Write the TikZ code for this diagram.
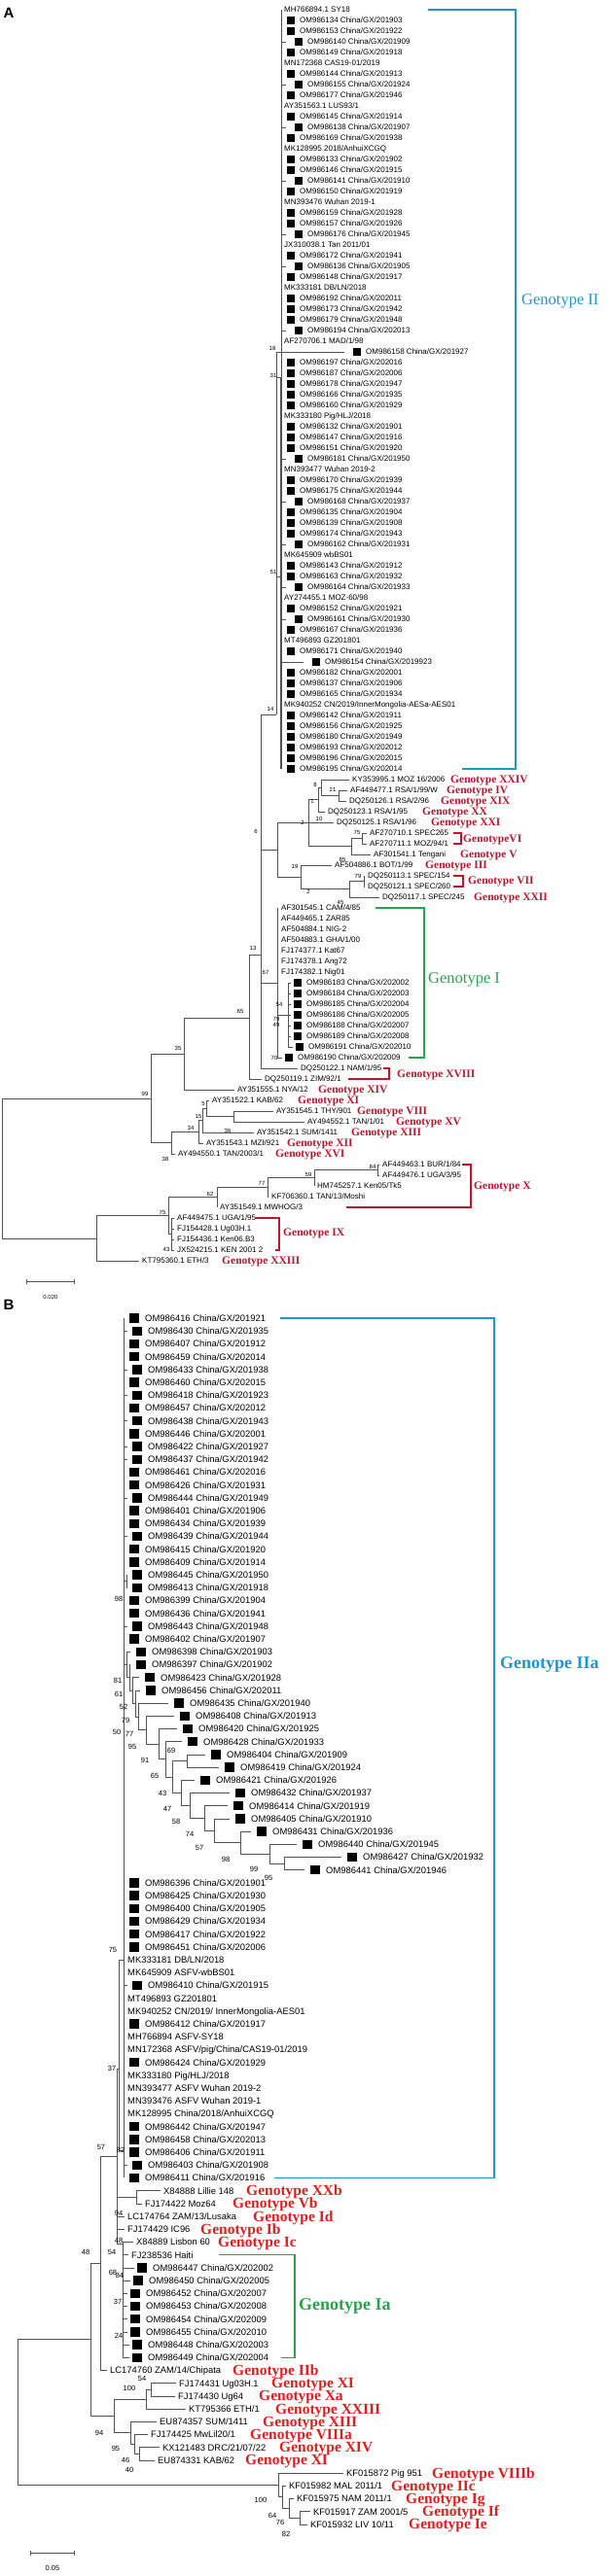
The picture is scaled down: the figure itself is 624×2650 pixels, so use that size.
\documentclass[tikz,border=0pt]{standalone}
\usepackage{fontspec}
\setmainfont{Liberation Sans}
\newfontfamily\timesf{Liberation Serif}
\usetikzlibrary{arrows.meta}

\definecolor{gred}{RGB}{192,22,44}
\definecolor{bred}{RGB}{228,28,28}
\definecolor{gblue}{RGB}{27,150,214}
\definecolor{ggreen}{RGB}{40,165,75}

\newcommand{\lfa}{\fontsize{8}{8}\selectfont}
\newcommand{\lfb}{\fontsize{9.4}{9.4}\selectfont}
\newcommand{\bsfa}{\fontsize{6}{6}\selectfont}
\newcommand{\bsfb}{\fontsize{7.5}{7.5}\selectfont}
\newcommand{\gfa}{\timesf\bfseries\fontsize{11.5}{11.5}\selectfont}
\newcommand{\gfb}{\timesf\bfseries\fontsize{15.5}{15.5}\selectfont}
\newcommand{\gfA}{\timesf\fontsize{16.5}{16.5}\selectfont}
\newcommand{\gfB}{\timesf\bfseries\fontsize{18}{18}\selectfont}
\newcommand{\sqa}{\rule[-0.9pt]{7.5pt}{7.5pt}\hspace{5.5pt}}
\newcommand{\sqb}{\rule[-1.4pt]{9.5pt}{9.5pt}\hspace{6.5pt}}

\tikzset{
	br/.style={draw=black!68, line width=0.6pt},
	la/.style={anchor=west, inner xsep=3pt, inner ysep=0pt, font=\lfa, text height=5.8pt, text depth=0pt},
	lai/.style={la, inner xsep=9pt},
	lb/.style={anchor=west, inner xsep=3pt, inner ysep=0pt, font=\lfb, text height=6.8pt, text depth=0pt},
	lbi/.style={lb, inner xsep=5pt},
	lbl/.style={lb, inner xsep=6pt},
	bsa/.style={inner sep=0pt, font=\bsfa},
	bsb/.style={inner sep=0pt, font=\bsfb},
	gta/.style={anchor=west, inner sep=0pt, font=\gfa, text=gred, text height=7.6pt, text depth=0pt},
	gtb/.style={anchor=west, inner sep=0pt, font=\gfb, text=bred, text height=10.3pt, text depth=0pt},
	brk/.style={line width=1.2pt},
	panel/.style={inner sep=0pt, font=\bfseries\fontsize{15}{15}\selectfont},
}

\begin{document}
\begin{tikzpicture}[x=1pt, y=-1pt]
				\useasboundingbox (0,0) rectangle (624,2650);
				\node[panel] (pA) at (9,13) {A};
				
				%%% A: GENOTIPO II
				\node[la] (a1) at (289,10) {MH766894.1 SY18};
				\node[la] (a2) at (292,21) {\sqa OM986134 China/GX/201903};
				\node[la] (a3) at (292,32) {\sqa OM986153 China/GX/201922};
				\node[lai] (a4) at (294,43) {\sqa OM986140 China/GX/201909};
				\node[la] (a5) at (292,54) {\sqa OM986149 China/GX/201918};
				\node[la] (a6) at (289,65) {MN172368 CAS19-01/2019};
				\node[la] (a7) at (292,76) {\sqa OM986144 China/GX/201913};
				\node[lai] (a8) at (294,87) {\sqa OM986155 China/GX/201924};
				\node[la] (a9) at (292,98) {\sqa OM986177 China/GX/201946};
				\node[la] (a10) at (289,109) {AY351563.1 LUS93/1};
				\node[la] (a11) at (292,120) {\sqa OM986145 China/GX/201914};
				\node[lai] (a12) at (294,131) {\sqa OM986138 China/GX/201907};
				\node[la] (a13) at (292,142) {\sqa OM986169 China/GX/201938};
				\node[la] (a14) at (289,153) {MK128995 2018/AnhuiXCGQ};
				\node[la] (a15) at (292,164) {\sqa OM986133 China/GX/201902};
				\node[la] (a16) at (292,175) {\sqa OM986146 China/GX/201915};
				\node[lai] (a17) at (294,186) {\sqa OM986141 China/GX/201910};
				\node[la] (a18) at (292,197) {\sqa OM986150 China/GX/201919};
				\node[la] (a19) at (289,208) {MN393476 Wuhan 2019-1};
				\node[la] (a20) at (292,219) {\sqa OM986159 China/GX/201928};
				\node[la] (a21) at (292,230) {\sqa OM986157 China/GX/201926};
				\node[lai] (a22) at (294,241) {\sqa OM986176 China/GX/201945};
				\node[la] (a23) at (289,252) {JX310038.1 Tan 2011/01};
				\node[la] (a24) at (292,263) {\sqa OM986172 China/GX/201941};
				\node[lai] (a25) at (294,274) {\sqa OM986136 China/GX/201905};
				\node[la] (a26) at (292,285) {\sqa OM986148 China/GX/201917};
				\node[la] (a27) at (289,296) {MK333181 DB/LN/2018};
				\node[la] (a28) at (292,307) {\sqa OM986192 China/GX/202011};
				\node[la] (a29) at (292,318) {\sqa OM986173 China/GX/201942};
				\node[la] (a30) at (292,329) {\sqa OM986179 China/GX/201948};
				\node[lai] (a31) at (294,340) {\sqa OM986194 China/GX/202013};
				\node[la] (a32) at (289,351) {AF270706.1 MAD/1/98};
				\node[lai] (a33) at (354,362) {\sqa OM986158 China/GX/201927};
				\node[la] (a34) at (292,373) {\sqa OM986197 China/GX/202016};
				\node[la] (a35) at (292,384) {\sqa OM986187 China/GX/202006};
				\node[la] (a36) at (292,395) {\sqa OM986178 China/GX/201947};
				\node[la] (a37) at (292,406) {\sqa OM986166 China/GX/201935};
				\node[la] (a38) at (292,417) {\sqa OM986160 China/GX/201929};
				\node[la] (a39) at (289,428) {MK333180 Pig/HLJ/2018};
				\node[la] (a40) at (292,439) {\sqa OM986132 China/GX/201901};
				\node[la] (a41) at (292,450) {\sqa OM986147 China/GX/201916};
				\node[la] (a42) at (292,461) {\sqa OM986151 China/GX/201920};
				\node[lai] (a43) at (294,472) {\sqa OM986181 China/GX/201950};
				\node[la] (a44) at (289,483) {MN393477 Wuhan 2019-2};
				\node[la] (a45) at (292,494) {\sqa OM986170 China/GX/201939};
				\node[la] (a46) at (292,505) {\sqa OM986175 China/GX/201944};
				\node[lai] (a47) at (294,516) {\sqa OM986168 China/GX/201937};
				\node[la] (a48) at (292,527) {\sqa OM986135 China/GX/201904};
				\node[la] (a49) at (292,538) {\sqa OM986139 China/GX/201908};
				\node[la] (a50) at (292,549) {\sqa OM986174 China/GX/201943};
				\node[lai] (a51) at (294,560) {\sqa OM986162 China/GX/201931};
				\node[la] (a52) at (289,571) {MK645909 wbBS01};
				\node[la] (a53) at (292,582) {\sqa OM986143 China/GX/201912};
				\node[la] (a54) at (292,593) {\sqa OM986163 China/GX/201932};
				\node[lai] (a55) at (294,604) {\sqa OM986164 China/GX/201933};
				\node[la] (a56) at (289,615) {AY274455.1 MOZ-60/98};
				\node[la] (a57) at (292,626) {\sqa OM986152 China/GX/201921};
				\node[lai] (a58) at (294,637) {\sqa OM986161 China/GX/201930};
				\node[la] (a59) at (292,648) {\sqa OM986167 China/GX/201936};
				\node[la] (a60) at (289,659) {MT496893 GZ201801};
				\node[la] (a61) at (292,670) {\sqa OM986171 China/GX/201940};
				\node[lai] (a62) at (312,681) {\sqa OM986154 China/GX/2019923};
				\node[la] (a63) at (292,692) {\sqa OM986182 China/GX/202001};
				\node[la] (a64) at (292,703) {\sqa OM986137 China/GX/201906};
				\node[la] (a65) at (292,714) {\sqa OM986165 China/GX/201934};
				\node[la] (a66) at (289,725) {MK940252 CN/2019/InnerMongolia-AESa-AES01};
				\node[la] (a67) at (292,736) {\sqa OM986142 China/GX/201911};
				\node[la] (a68) at (292,747) {\sqa OM986156 China/GX/201925};
				\node[la] (a69) at (292,758) {\sqa OM986180 China/GX/201949};
				\node[la] (a70) at (292,769) {\sqa OM986193 China/GX/202012};
				\node[la] (a71) at (292,780) {\sqa OM986196 China/GX/202015};
				\node[la] (a72) at (292,791) {\sqa OM986195 China/GX/202014};
				
				%%% A: GENOTIPOS XXIV ... XXII
				\node[la] (a73) at (359,802) {KY353995.1 MOZ 16/2006};
				\node[la] (a74) at (357,813) {AF449477.1 RSA/1/99/W};
				\node[la] (a75) at (356,824) {DQ250126.1 RSA/2/96};
				\node[la] (a76) at (334,835) {DQ250123.1 RSA/1/95};
				\node[la] (a77) at (343,846) {DQ250125.1 RSA/1/96};
				\node[la] (a78) at (377,857) {AF270710.1 SPEC265};
				\node[la] (a79) at (377,868) {AF270711.1 MOZ/94/1};
				\node[la] (a80) at (381,879) {AF301541.1 Tengani};
				\node[la] (a81) at (341,890) {AF504886.1 BOT/1/99};
				\node[la] (a82) at (375,901) {DQ250113.1 SPEC/154};
				\node[la] (a83) at (375,912) {DQ250121.1 SPEC/260};
				\node[la] (a84) at (390,923) {DQ250117.1 SPEC/245};
				
				%%% A: GENOTIPO I
				\node[la] (a85) at (286,934) {AF301545.1 CAM/4/85};
				\node[la] (a86) at (286,945) {AF449465.1 ZAR85};
				\node[la] (a87) at (286,956) {AF504884.1 NIG-2};
				\node[la] (a88) at (286,967) {AF504883.1 GHA/1/00};
				\node[la] (a89) at (286,978) {FJ174377.1 Kat67};
				\node[la] (a90) at (286,989) {FJ174378.1 Ang72};
				\node[la] (a91) at (286,1000) {FJ174382.1 Nig01};
				\node[la] (a92) at (299,1011) {\sqa OM986183 China/GX/202002};
				\node[la] (a93) at (299,1022) {\sqa OM986184 China/GX/202003};
				\node[la] (a94) at (299,1033) {\sqa OM986185 China/GX/202004};
				\node[la] (a95) at (299,1044) {\sqa OM986186 China/GX/202005};
				\node[la] (a96) at (299,1055) {\sqa OM986188 China/GX/202007};
				\node[la] (a97) at (299,1066) {\sqa OM986189 China/GX/202008};
				\node[la] (a98) at (301,1077) {\sqa OM986191 China/GX/202010};
				\node[la] (a99) at (290,1088) {\sqa OM986190 China/GX/202009};
				
				%%% A: RESTO
				\node[la] (a100) at (306,1099) {DQ250122.1 NAM/1/95};
				\node[la] (a101) at (269,1110) {DQ250119.1 ZIM/92/1};
				\node[la] (a102) at (241,1121) {AY351555.1 NYA/12};
				\node[la] (a103) at (215,1132) {AY351522.1 KAB/62};
				\node[la] (a104) at (281,1143) {AY351545.1 THY/901};
				\node[la] (a105) at (313,1154) {AY494552.1 TAN/1/01};
				\node[la] (a106) at (261,1165) {AY351542.1 SUM/1411};
				\node[la] (a107) at (209,1176) {AY351543.1 MZI/921};
				\node[la] (a108) at (180,1187) {AY494550.1 TAN/2003/1};
				\node[la] (a109) at (390,1198) {AF449463.1 BUR/1/84};
				\node[la] (a110) at (390,1209) {AF449476.1 UGA/3/95};
				\node[la] (a111) at (323,1220) {HM745257.1 Ken05/Tk5};
				\node[la] (a112) at (276,1231) {KF706360.1 TAN/13/Moshi};
				\node[la] (a113) at (223,1242) {AY351549.1 MWHOG/3};
				\node[la] (a114) at (179,1253) {AF449475.1 UGA/1/95};
				\node[la] (a115) at (179,1264) {FJ154428.1 Ug03H.1};
				\node[la] (a116) at (179,1275) {FJ154436.1 Ken06.B3};
				\node[la] (a117) at (179,1286) {JX524215.1 KEN 2001 2};
				\node[la] (a118) at (143,1297) {KT795360.1 ETH/3};
				
				%%% A: NODOS
				\coordinate (gII) at (289,10);
				\coordinate (gIIb) at (289,791);
				\coordinate (n31) at (289,388);
				\coordinate (n51) at (289,593);
				\coordinate (n14) at (284,735);
				\coordinate (n21) at (348,818.5);
				\coordinate (n8) at (330,810);
				\coordinate (n1) at (327,822.5);
				\coordinate (nVI) at (372,862.5);
				\coordinate (nV) at (361,870.75);
				\coordinate (n2) at (317,846.6);
				\coordinate (n79) at (374,906.5);
				\coordinate (n45) at (359,914.75);
				\coordinate (n19) at (309,902.4);
				\coordinate (nM) at (285,874.5);
				\coordinate (n54) at (296,1044);
				\coordinate (nI) at (285,1011);
				\coordinate (n13) at (268,982);
				\coordinate (n65) at (256,1047);
				\coordinate (n35) at (189,1084);
				\coordinate (nTT) at (240,1148.5);
				\coordinate (n5) at (212,1140);
				\coordinate (n15) at (208,1152.5);
				\coordinate (n34) at (204,1164);
				\coordinate (n38) at (176,1175.5);
				\coordinate (n99) at (155,1130);
				\coordinate (n84) at (388,1203.5);
				\coordinate (n59) at (323,1211.75);
				\coordinate (n77) at (275,1221.4);
				\coordinate (n62) at (223,1231.7);
				\coordinate (nIX) at (176,1269.5);
				\coordinate (n75) at (173,1250.6);
				\coordinate (nE) at (99,1274);
				\coordinate (rA) at (2,1202);
				
				%%% A: RAMAS
				\draw[br] (gII) -- (gIIb);
				\draw[br, line width=1.3pt] (n31) -- (gIIb);
				\draw[br] (gII) |- (a4.west) (gII) |- (a8.west) (gII) |- (a12.west) (gII) |- (a17.west) (gII) |- (a22.west) (gII) |- (a25.west) (gII) |- (a31.west);
				\draw[br] (gII) |- (a43.west) (gII) |- (a47.west) (gII) |- (a51.west) (gII) |- (a55.west) (gII) |- (a58.west) (gII) |- (a62.west);
				\draw[br] (n14) |- (a33.west) (n14) |- (n31) (n14) |- (n51);
				\draw[br] (n13) |- (n14);
				\draw[br] (n21) |- (a74.west) (n21) |- (a75.west);
				\draw[br] (n8) |- (a73.west) (n8) |- (n21);
				\draw[br] (n1) |- (n8) (n1) |- (a76.west);
				\draw[br] (nVI) |- (a78.west) (nVI) |- (a79.west);
				\draw[br] (nV) |- (nVI) (nV) |- (a80.west);
				\draw[br] (n2) |- (n1) (n2) |- (a77.west) (n2) |- (nV);
				\draw[br] (n79) |- (a82.west) (n79) |- (a83.west);
				\draw[br] (n45) |- (n79) (n45) |- (a84.west);
				\draw[br] (n19) |- (a81.west) (n19) |- (n45);
				\draw[br] (nM) |- (n2) (nM) |- (n19);
				\draw[br] (n13) |- (nM);
				\draw[br] (nI) |- (a85.west) (nI) |- (a86.west) (nI) |- (a87.west) (nI) |- (a88.west) (nI) |- (a89.west) (nI) |- (a90.west) (nI) |- (a91.west);
				\draw[br] (nI) |- (n54) (nI) |- (a99.west);
				\draw[br] (n54) |- (a92.west) (n54) |- (a93.west) (n54) |- (a94.west) (n54) |- (a95.west) (n54) |- (a96.west) (n54) |- (a97.west) (n54) |- (a98.west);
				\draw[br] (n13) |- (nI) (n13) |- (a100.west);
				\draw[br] (n65) |- (n13) (n65) |- (a101.west);
				\draw[br] (n35) |- (n65) (n35) |- (a102.west);
				\draw[br] (nTT) |- (a104.west) (nTT) |- (a105.west);
				\draw[br] (n5) |- (a103.west) (n5) |- (nTT);
				\draw[br] (n15) |- (n5) (n15) |- (a106.west);
				\draw[br] (n34) |- (n15) (n34) |- (a107.west);
				\draw[br] (n38) |- (n34) (n38) |- (a108.west);
				\draw[br] (n99) |- (n35) (n99) |- (n38);
				\draw[br] (n84) |- (a109.west) (n84) |- (a110.west);
				\draw[br] (n59) |- (n84) (n59) |- (a111.west);
				\draw[br] (n77) |- (n59) (n77) |- (a112.west);
				\draw[br] (n62) |- (n77) (n62) |- (a113.west);
				\draw[br] (nIX) |- (a114.west) (nIX) |- (a115.west) (nIX) |- (a116.west) (nIX) |- (a117.west);
				\draw[br] (n75) |- (n62) (n75) |- (nIX);
				\draw[br] (nE) |- (n75) (nE) |- (a118.west);
				\draw[br] (rA) |- (n99) (rA) |- (nE);
				
				%%% A: BOOTSTRAP
				\node[bsa] (sa1) at (280,358) {18};
				\node[bsa] (sa2) at (281,386) {31};
				\node[bsa] (sa3) at (281,588) {51};
				\node[bsa] (sa4) at (278,729) {14};
				\node[bsa] (sa5) at (263,855) {6};
				\node[bsa] (sa6) at (324,807) {8};
				\node[bsa] (sa7) at (342,812) {21};
				\node[bsa] (sa8) at (321,824) {1};
				\node[bsa] (sa9) at (328,842) {10};
				\node[bsa] (sa10) at (311,846) {2};
				\node[bsa] (sa11) at (367,856) {75};
				\node[bsa] (sa12) at (352,884) {85};
				\node[bsa] (sa13) at (303,891) {19};
				\node[bsa] (sa14) at (368,901) {79};
				\node[bsa] (sa15) at (317,917) {2};
				\node[bsa] (sa16) at (350,928) {45};
				\node[bsa] (sa17) at (260,975) {13};
				\node[bsa] (sa18) at (273,1000) {67};
				\node[bsa] (sa19) at (287,1033) {54};
				\node[bsa] (sa20) at (284,1048) {79};
				\node[bsa] (sa21) at (284,1054) {49};
				\node[bsa] (sa22) at (247,1040) {65};
				\node[bsa] (sa23) at (282,1088) {70};
				\node[bsa] (sa24) at (183,1078) {35};
				\node[bsa] (sa25) at (149,1125) {99};
				\node[bsa] (sa26) at (209,1135) {5};
				\node[bsa] (sa27) at (204,1148) {15};
				\node[bsa] (sa28) at (196,1160) {34};
				\node[bsa] (sa29) at (234,1163) {36};
				\node[bsa] (sa30) at (170,1192) {38};
				\node[bsa] (sa31) at (383,1200) {84};
				\node[bsa] (sa32) at (317,1208) {59};
				\node[bsa] (sa33) at (269,1217) {77};
				\node[bsa] (sa34) at (216,1228) {62};
				\node[bsa] (sa35) at (167,1247) {75};
				\node[bsa] (sa36) at (171,1285) {43};
				
				%%% A: GENOTIPOS
				\draw[gblue, brk] (440,10) -- (530,10) -- (530,791) -- (475,791);
				\node[anchor=west, inner sep=0pt, font=\gfA, text=gblue] (gtII) at (536,310) {Genotype II};
				\draw[ggreen, brk] (386,934) -- (436,934) -- (436,1088) -- (420,1088);
				\node[anchor=west, inner sep=0pt, font=\gfA, text=ggreen] (gtI) at (440,1008) {Genotype I};
				\draw[gred, brk] (466,857) -- (474,857) -- (474,868) -- (466,868);
				\draw[gred, brk] (466,901) -- (476,901) -- (476,912) -- (466,912);
				\draw[gred, brk] (394,1099) -- (400,1099) -- (400,1110) -- (358,1110);
				\draw[gred, brk] (475,1198) -- (484,1198) -- (484,1242) -- (356,1242);
				\draw[gred, brk] (262,1253) -- (287,1253) -- (287,1286) -- (283,1286);
				\node[gta] (ga1) at (463,802) {Genotype XXIV};
				\node[gta] (ga2) at (459,813) {Genotype IV};
				\node[gta] (ga3) at (453,824) {Genotype XIX};
				\node[gta] (ga4) at (434,835) {Genotype XX};
				\node[gta] (ga5) at (443,846) {Genotype XXI};
				\node[gta] (ga6) at (476,863) {GenotypeVI};
				\node[gta] (ga7) at (473,879) {Genotype V};
				\node[gta] (ga8) at (437,890) {Genotype III};
				\node[gta] (ga9) at (481,906) {Genotype VII};
				\node[gta] (ga10) at (487,923) {Genotype XXII};
				\node[gta] (ga11) at (408,1105) {Genotype XVIII};
				\node[gta] (ga12) at (327,1121) {Genotype XIV};
				\node[gta] (ga13) at (306,1132) {Genotype XI};
				\node[gta] (ga14) at (367,1143) {Genotype VIII};
				\node[gta] (ga15) at (407,1154) {Genotype XV};
				\node[gta] (ga16) at (361,1165) {Genotype XIII};
				\node[gta] (ga17) at (295,1176) {Genotype XII};
				\node[gta] (ga18) at (283,1187) {Genotype XVI};
				\node[gta] (ga19) at (487,1220) {Genotype X};
				\node[gta] (ga20) at (291,1268) {Genotype IX};
				\node[gta] (ga21) at (228,1297) {Genotype XXIII};
				
				%%% A: ESCALA
				\coordinate (ea1) at (27,1318);
				\coordinate (ea2) at (77,1318);
				\draw[br, {Bar[width=5pt]}-{Bar[width=5pt]}] (ea1) -- (ea2);
				\node[bsa] (ea) at (52,1334) {0.020};
				
				\node[panel] (pB) at (9,1342) {B};
				
				%%% B: GENOTIPO IIa
				\node[lb] (b1) at (130,1356) {\sqb OM986416 China/GX/201921};
				\node[lbi] (b2) at (131,1369.2) {\sqb OM986430 China/GX/201935};
				\node[lb] (b3) at (130,1382.4) {\sqb OM986407 China/GX/201912};
				\node[lb] (b4) at (130,1395.6) {\sqb OM986459 China/GX/202014};
				\node[lbi] (b5) at (131,1408.8) {\sqb OM986433 China/GX/201938};
				\node[lb] (b6) at (130,1422) {\sqb OM986460 China/GX/202015};
				\node[lbi] (b7) at (131,1435.2) {\sqb OM986418 China/GX/201923};
				\node[lb] (b8) at (130,1448.4) {\sqb OM986457 China/GX/202012};
				\node[lbi] (b9) at (131,1461.6) {\sqb OM986438 China/GX/201943};
				\node[lb] (b10) at (130,1474.8) {\sqb OM986446 China/GX/202001};
				\node[lbi] (b11) at (131,1488) {\sqb OM986422 China/GX/201927};
				\node[lbi] (b12) at (131,1501.2) {\sqb OM986437 China/GX/201942};
				\node[lb] (b13) at (130,1514.4) {\sqb OM986461 China/GX/202016};
				\node[lb] (b14) at (130,1527.6) {\sqb OM986426 China/GX/201931};
				\node[lbi] (b15) at (131,1540.8) {\sqb OM986444 China/GX/201949};
				\node[lb] (b16) at (130,1554) {\sqb OM986401 China/GX/201906};
				\node[lb] (b17) at (130,1567.2) {\sqb OM986434 China/GX/201939};
				\node[lbi] (b18) at (131,1580.4) {\sqb OM986439 China/GX/201944};
				\node[lb] (b19) at (130,1593.6) {\sqb OM986415 China/GX/201920};
				\node[lb] (b20) at (130,1606.8) {\sqb OM986409 China/GX/201914};
				\node[lbi] (b21) at (131,1620) {\sqb OM986445 China/GX/201950};
				\node[lbi] (b22) at (131,1633.2) {\sqb OM986413 China/GX/201918};
				\node[lb] (b23) at (130,1646.4) {\sqb OM986399 China/GX/201904};
				\node[lb] (b24) at (130,1659.6) {\sqb OM986436 China/GX/201941};
				\node[lbi] (b25) at (131,1672.8) {\sqb OM986443 China/GX/201948};
				\node[lb] (b26) at (130,1686) {\sqb OM986402 China/GX/201907};
				\node[lbl] (b27) at (134,1699.2) {\sqb OM986398 China/GX/201903};
				\node[lbl] (b28) at (134,1712.4) {\sqb OM986397 China/GX/201902};
				\node[lbl] (b29) at (143,1725.6) {\sqb OM986423 China/GX/201928};
				\node[lbl] (b30) at (144,1738.8) {\sqb OM986456 China/GX/202011};
				\node[lbl] (b31) at (173,1752) {\sqb OM986435 China/GX/201940};
				\node[lbl] (b32) at (179,1765.2) {\sqb OM986408 China/GX/201913};
				\node[lbl] (b33) at (182,1778.4) {\sqb OM986420 China/GX/201925};
				\node[lbl] (b34) at (187,1791.6) {\sqb OM986428 China/GX/201933};
				\node[lbl] (b35) at (211,1804.8) {\sqb OM986404 China/GX/201909};
				\node[lbl] (b36) at (225,1818) {\sqb OM986419 China/GX/201924};
				\node[lbl] (b37) at (200,1831.2) {\sqb OM986421 China/GX/201926};
				\node[lbl] (b38) at (236,1844.4) {\sqb OM986432 China/GX/201937};
				\node[lbl] (b39) at (234,1857.6) {\sqb OM986414 China/GX/201919};
				\node[lbl] (b40) at (236,1870.8) {\sqb OM986405 China/GX/201910};
				\node[lbl] (b41) at (258,1884) {\sqb OM986431 China/GX/201936};
				\node[lbl] (b42) at (305,1897.2) {\sqb OM986440 China/GX/201945};
				\node[lbl] (b43) at (351,1910.4) {\sqb OM986427 China/GX/201932};
				\node[lbl] (b44) at (313,1923.6) {\sqb OM986441 China/GX/201946};
				\node[lb] (b45) at (130,1936.8) {\sqb OM986396 China/GX/201901};
				\node[lb] (b46) at (130,1950) {\sqb OM986425 China/GX/201930};
				\node[lb] (b47) at (130,1963.2) {\sqb OM986400 China/GX/201905};
				\node[lb] (b48) at (130,1976.4) {\sqb OM986429 China/GX/201934};
				\node[lb] (b49) at (130,1989.6) {\sqb OM986417 China/GX/201922};
				\node[lb] (b50) at (130,2002.8) {\sqb OM986451 China/GX/202006};
				\node[lb] (b51) at (128,2016) {MK333181 DB/LN/2018};
				\node[lb] (b52) at (128,2029.2) {MK645909 ASFV-wbBS01};
				\node[lbi] (b53) at (131,2042.4) {\sqb OM986410 China/GX/201915};
				\node[lb] (b54) at (128,2055.6) {MT496893 GZ201801};
				\node[lb] (b55) at (128,2068.8) {MK940252 CN/2019/ InnerMongolia-AES01};
				\node[lb] (b56) at (130,2082) {\sqb OM986412 China/GX/201917};
				\node[lb] (b57) at (128,2095.2) {MH766894 ASFV-SY18};
				\node[lb] (b58) at (128,2108.4) {MN172368 ASFV/pig/China/CAS19-01/2019};
				\node[lb] (b59) at (130,2121.6) {\sqb OM986424 China/GX/201929};
				\node[lb] (b60) at (128,2134.8) {MK333180 Pig/HLJ/2018};
				\node[lb] (b61) at (128,2148) {MN393477 ASFV Wuhan 2019-2};
				\node[lb] (b62) at (128,2161.2) {MN393476 ASFV Wuhan 2019-1};
				\node[lb] (b63) at (128,2174.4) {MK128995 China/2018/AnhuiXCGQ};
				\node[lb] (b64) at (130,2187.6) {\sqb OM986442 China/GX/201947};
				\node[lb] (b65) at (130,2200.8) {\sqb OM986458 China/GX/202013};
				\node[lb] (b66) at (130,2214) {\sqb OM986406 China/GX/201911};
				\node[lbi] (b67) at (131,2227.2) {\sqb OM986403 China/GX/201908};
				\node[lb] (b68) at (130,2240.4) {\sqb OM986411 China/GX/201916};
				
				%%% B: OTROS GENOTIPOS
				\node[lb] (b69) at (165,2253.6) {X84888 Lillie 148};
				\node[lb] (b70) at (146,2266.8) {FJ174422 Moz64};
				\node[lb] (b71) at (128,2280) {LC174764 ZAM/13/Lusaka};
				\node[lb] (b72) at (128,2293.2) {FJ174429 IC96};
				\node[lb] (b73) at (137,2306.4) {X84889 Lisbon 60};
				\node[lb] (b74) at (132,2319.6) {FJ238536 Haiti};
				\node[lb] (b75) at (138,2332.8) {\sqb OM986447 China/GX/202002};
				\node[lb] (b76) at (134,2346) {\sqb OM986450 China/GX/202005};
				\node[lb] (b77) at (131,2359.2) {\sqb OM986452 China/GX/202007};
				\node[lb] (b78) at (131,2372.4) {\sqb OM986453 China/GX/202008};
				\node[lb] (b79) at (131,2385.6) {\sqb OM986454 China/GX/202009};
				\node[lb] (b80) at (131,2398.8) {\sqb OM986455 China/GX/202010};
				\node[lb] (b81) at (133,2412) {\sqb OM986448 China/GX/202003};
				\node[lb] (b82) at (133,2425.2) {\sqb OM986449 China/GX/202004};
				\node[lb] (b83) at (110,2438.4) {LC174760 ZAM/14/Chipata};
				\node[lb] (b84) at (181,2451.6) {FJ174431 Ug03H.1};
				\node[lb] (b85) at (180,2464.8) {FJ174430 Ug64};
				\node[lb] (b86) at (191,2478) {KT795366 ETH/1};
				\node[lb] (b87) at (161,2491.2) {EU874357 SUM/1411};
				\node[lb] (b88) at (152,2504.4) {FJ174425 MwLil20/1};
				\node[lb] (b89) at (164,2517.6) {KX121483 DRC/21/07/22};
				\node[lb] (b90) at (159,2530.8) {EU874331 KAB/62};
				\node[lb] (b91) at (353,2544) {KF015872 Pig 951};
				\node[lb] (b92) at (294,2557.2) {KF015982 MAL 2011/1};
				\node[lb] (b93) at (302,2570.4) {KF015975 NAM 2011/1};
				\node[lb] (b94) at (319,2583.6) {KF015917 ZAM 2001/5};
				\node[lb] (b95) at (316,2596.8) {KF015932 LIV 10/11};
				
				%%% B: NODOS
				\coordinate (gIIa) at (127,1356);
				\coordinate (gIIab) at (127,2240.4);
				\coordinate (n21b) at (130,1626.6);
				\coordinate (nE2) at (130,1712.45);
				\coordinate (nD) at (133,1725.7);
				\coordinate (nC) at (136,1739);
				\coordinate (nB) at (139,1752.3);
				\coordinate (nA) at (142,1765.8);
				\coordinate (n77b) at (150,1779.6);
				\coordinate (n95b) at (163,1794.05);
				\coordinate (n91b) at (170,1809.7);
				\coordinate (n65b) at (177,1827.85);
				\coordinate (n69b) at (192,1811.4);
				\coordinate (n43b) at (186,1844.3);
				\coordinate (n47b) at (195,1857.4);
				\coordinate (n58b) at (210,1870.4);
				\coordinate (n74b) at (220,1883.2);
				\coordinate (n57b) at (247,1895.55);
				\coordinate (n98b) at (277,1907.1);
				\coordinate (n99b) at (292,1917);
				\coordinate (c2016) at (127,2016);
				\coordinate (c2212) at (127,2212);
				\coordinate (n75b) at (122,2128);
				\coordinate (n37b) at (120,2218);
				\coordinate (nXX) at (140,2260.2);
				\coordinate (nIa) at (126,2308);
				\coordinate (n57c) at (103,2328);
				\coordinate (n54c) at (155,2458.2);
				\coordinate (n100c) at (150,2468);
				\coordinate (n40c) at (143,2524.2);
				\coordinate (n46c) at (138,2514.3);
				\coordinate (n95c) at (134,2502.75);
				\coordinate (n94c) at (117,2485.4);
				\coordinate (n48c) at (93,2406.7);
				\coordinate (n82c) at (308,2590.2);
				\coordinate (n76c) at (297,2580.3);
				\coordinate (n64c) at (290,2568.75);
				\coordinate (n100d) at (286,2556.4);
				\coordinate (rB) at (18,2481.5);
				
				%%% B: RAMAS
				\draw[br] (gIIa) -- (gIIab);
				\draw[br] (gIIa) |- (b2.west) (gIIa) |- (b5.west) (gIIa) |- (b7.west) (gIIa) |- (b9.west) (gIIa) |- (b11.west) (gIIa) |- (b12.west);
				\draw[br] (gIIa) |- (b15.west) (gIIa) |- (b18.west) (gIIa) |- (b25.west) (gIIa) |- (b53.west) (gIIa) |- (b67.west);
				\draw[br] (gIIa) |- (n21b) (n21b) |- (b21.west) (n21b) |- (b22.west);
				\draw[br] (gIIa) |- (nE2);
				\draw[br] (nE2) |- (b27.west) (nE2) |- (nD);
				\draw[br] (nD) |- (b28.west) (nD) |- (nC);
				\draw[br] (nC) |- (b29.west) (nC) |- (nB);
				\draw[br] (nB) |- (b30.west) (nB) |- (nA);
				\draw[br] (nA) |- (b31.west) (nA) |- (n77b);
				\draw[br] (n77b) |- (b32.west) (n77b) |- (n95b);
				\draw[br] (n95b) |- (b33.west) (n95b) |- (n91b);
				\draw[br] (n91b) |- (b34.west) (n91b) |- (n65b);
				\draw[br] (n65b) |- (n69b) (n65b) |- (n43b);
				\draw[br] (n69b) |- (b35.west) (n69b) |- (b36.west);
				\draw[br] (n43b) |- (b37.west) (n43b) |- (n47b);
				\draw[br] (n47b) |- (b38.west) (n47b) |- (n58b);
				\draw[br] (n58b) |- (b39.west) (n58b) |- (n74b);
				\draw[br] (n74b) |- (b40.west) (n74b) |- (n57b);
				\draw[br] (n57b) |- (b41.west) (n57b) |- (n98b);
				\draw[br] (n98b) |- (b42.west) (n98b) |- (n99b);
				\draw[br] (n99b) |- (b43.west) (n99b) |- (b44.west);
				\draw[br] (n75b) |- (c2016) (n75b) |- (c2212);
				\draw[br] (n37b) |- (n75b) (n37b) |- (nXX) (n37b) |- (b71.west) (n37b) |- (b72.west) (n37b) |- (nIa);
				\draw[br] (nXX) |- (b69.west) (nXX) |- (b70.west);
				\draw[br] (nIa) |- (b73.west) (nIa) |- (b74.west) (nIa) |- (b75.west) (nIa) |- (b76.west) (nIa) |- (b77.west);
				\draw[br] (nIa) |- (b78.west) (nIa) |- (b79.west) (nIa) |- (b80.west) (nIa) |- (b81.west) (nIa) |- (b82.west);
				\draw[br] (n57c) |- (n37b) (n57c) |- (b83.west);
				\draw[br] (n54c) |- (b84.west) (n54c) |- (b85.west);
				\draw[br] (n100c) |- (n54c) (n100c) |- (b86.west);
				\draw[br] (n40c) |- (b89.west) (n40c) |- (b90.west);
				\draw[br] (n46c) |- (b88.west) (n46c) |- (n40c);
				\draw[br] (n95c) |- (b87.west) (n95c) |- (n46c);
				\draw[br] (n94c) |- (n100c) (n94c) |- (n95c);
				\draw[br] (n48c) |- (n57c) (n48c) |- (n94c);
				\draw[br] (n82c) |- (b94.west) (n82c) |- (b95.west);
				\draw[br] (n76c) |- (b93.west) (n76c) |- (n82c);
				\draw[br] (n64c) |- (b92.west) (n64c) |- (n76c);
				\draw[br] (n100d) |- (b91.west) (n100d) |- (n64c);
				\draw[br] (rB) |- (n48c) (rB) |- (n100d);
				
				%%% B: BOOTSTRAP
				\node[bsb] (sb1) at (122,1645) {98};
				\node[bsb] (sb2) at (121,1729) {81};
				\node[bsb] (sb3) at (122,1743) {61};
				\node[bsb] (sb4) at (127,1756) {52};
				\node[bsb] (sb5) at (129,1770) {79};
				\node[bsb] (sb6) at (120,1782) {50};
				\node[bsb] (sb7) at (133,1784) {77};
				\node[bsb] (sb8) at (136,1797) {95};
				\node[bsb] (sb9) at (176,1801) {69};
				\node[bsb] (sb10) at (149,1811) {91};
				\node[bsb] (sb11) at (159,1827) {65};
				\node[bsb] (sb12) at (167,1845) {43};
				\node[bsb] (sb13) at (172,1861) {47};
				\node[bsb] (sb14) at (181,1874) {58};
				\node[bsb] (sb15) at (195,1887) {74};
				\node[bsb] (sb16) at (205,1901) {57};
				\node[bsb] (sb17) at (232,1913) {98};
				\node[bsb] (sb18) at (261,1923) {99};
				\node[bsb] (sb19) at (276,1932) {95};
				\node[bsb] (sb20) at (116,2006) {75};
				\node[bsb] (sb21) at (115,2128) {37};
				\node[bsb] (sb22) at (104,2209) {57};
				\node[bsb] (sb23) at (124,2212) {82};
				\node[bsb] (sb24) at (122,2277) {94};
				\node[bsb] (sb25) at (122,2305) {48};
				\node[bsb] (sb26) at (115,2317) {54};
				\node[bsb] (sb27) at (88,2317) {48};
				\node[bsb] (sb28) at (116,2338) {68};
				\node[bsb] (sb29) at (123,2341) {84};
				\node[bsb] (sb30) at (121,2368) {37};
				\node[bsb] (sb31) at (122,2403) {24};
				\node[bsb] (sb32) at (146,2447) {54};
				\node[bsb] (sb33) at (133,2457) {100};
				\node[bsb] (sb34) at (102,2503) {94};
				\node[bsb] (sb35) at (119,2519) {95};
				\node[bsb] (sb36) at (129,2531) {46};
				\node[bsb] (sb37) at (133,2541) {40};
				\node[bsb] (sb38) at (268,2572) {100};
				\node[bsb] (sb39) at (280,2588) {64};
				\node[bsb] (sb40) at (288,2595) {76};
				\node[bsb] (sb41) at (294,2607) {82};
				
				%%% B: GENOTIPOS
				\draw[gblue, brk] (288,1356) -- (508,1356) -- (508,2240.4) -- (282,2240.4);
				\node[anchor=west, inner sep=0pt, font=\gfB, text=gblue] (gtIIa) at (514,1712) {Genotype IIa};
				\draw[ggreen, brk] (225,2319.6) -- (303,2319.6) -- (303,2425.2) -- (289,2425.2);
				\node[anchor=west, inner sep=0pt, font=\gfB, text=ggreen] (gtIa) at (307,2372) {Genotype Ia};
				\node[gtb] (gb1) at (253,2253.6) {Genotype XXb};
				\node[gtb] (gb2) at (239,2266.8) {Genotype Vb};
				\node[gtb] (gb3) at (260,2280) {Genotype Id};
				\node[gtb] (gb4) at (206,2293.2) {Genotype Ib};
				\node[gtb] (gb5) at (224,2306.4) {Genotype Ic};
				\node[gtb] (gb6) at (239,2438.4) {Genotype IIb};
				\node[gtb] (gb7) at (279,2451.6) {Genotype XI};
				\node[gtb] (gb8) at (266,2464.8) {Genotype Xa};
				\node[gtb] (gb9) at (283,2478) {Genotype XXIII};
				\node[gtb] (gb10) at (270,2491.2) {Genotype XIII};
				\node[gtb] (gb11) at (257,2504.4) {Genotype VIIIa};
				\node[gtb] (gb12) at (287,2517.6) {Genotype XIV};
				\node[gtb] (gb13) at (252,2530.8) {Genotype XI};
				\node[gtb] (gb14) at (444,2544) {Genotype VIIIb};
				\node[gtb] (gb15) at (402,2557.2) {Genotype IIc};
				\node[gtb] (gb16) at (417,2570.4) {Genotype Ig};
				\node[gtb] (gb17) at (434,2583.6) {Genotype If};
				\node[gtb] (gb18) at (420,2596.8) {Genotype Ie};
				
				%%% B: ESCALA
				\coordinate (eb1) at (31,2626);
				\coordinate (eb2) at (77,2626);
				\draw[br, {Bar[width=5pt]}-{Bar[width=5pt]}] (eb1) -- (eb2);
				\node[bsb] (eb) at (54,2642) {0.05};
			\end{tikzpicture}
\end{document}
